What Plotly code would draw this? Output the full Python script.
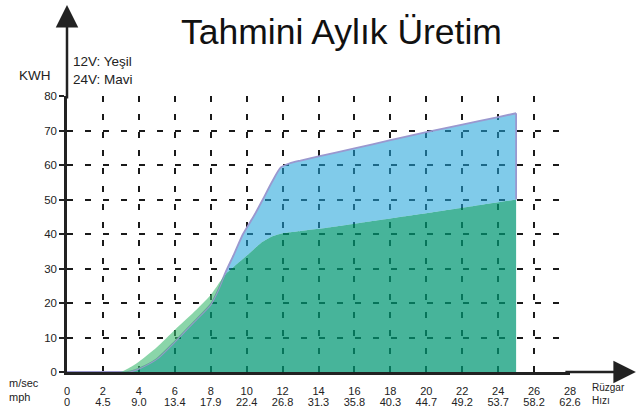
import plotly.graph_objects as go

# Wind speed (m/sec) sample points and estimated monthly production (KWH)
wind_ms = [0, 3.0, 3.4, 4, 5, 6, 7, 8, 8.4, 8.8, 9.3, 9.8, 10.4, 10.9, 11.4, 11.9, 12.4, 13, 14, 16, 18, 20, 22, 24, 25]
kwh_12v = [0, 0, 1.0, 3.0, 7.2, 12.2, 17.0, 22.3, 25.3, 28.2, 30.6, 32.8, 35.6, 37.8, 39.3, 40.1, 40.5, 40.9, 41.5, 43, 44.5, 46, 47.6, 49.2, 50]
kwh_24v = [0, 0, 0, 1.0, 3.8, 8.8, 14.2, 19.6, 23.6, 28.6, 34.2, 40, 45.2, 50, 55, 59.3, 60.5, 61.3, 62.5, 64.8, 67.2, 69.5, 71.7, 73.9, 75]

x_ticks_ms = [0, 2, 4, 6, 8, 10, 12, 14, 16, 18, 20, 22, 24, 26, 28]
x_ticks_mph = ["0", "4.5", "9.0", "13.4", "17.9", "22.4", "26.8", "31.3", "35.8", "40.3", "44.7", "49.2", "53.7", "58.2", "62.6"]
y_ticks = [0, 10, 20, 30, 40, 50, 60, 70, 80]

kwh_min = [min(a, b) for a, b in zip(kwh_12v, kwh_24v)]

TEAL = "rgba(0,151,115,0.72)"
BLUE = "rgba(32,164,218,0.57)"
GREEN = "rgba(60,185,112,0.6)"
PURPLE = "#9a98cf"
GRID = "#1a1a1a"
FONT = "Liberation Sans, Arial, sans-serif"
TXT = "#222"

fig = go.Figure()
sm = 0.6
fig.add_trace(go.Scatter(x=wind_ms, y=kwh_min, mode="lines", line=dict(width=0, shape="spline", smoothing=sm),
                         fill="tozeroy", fillcolor=TEAL, hoverinfo="skip", showlegend=False))
fig.add_trace(go.Scatter(x=wind_ms, y=kwh_24v, mode="lines", line=dict(width=1.8, color=PURPLE, shape="spline", smoothing=sm),
                         fill="tonexty", fillcolor=BLUE, name="24V", showlegend=False))
fig.add_trace(go.Scatter(x=wind_ms, y=kwh_min, mode="lines", line=dict(width=0, shape="spline", smoothing=sm),
                         hoverinfo="skip", showlegend=False))
fig.add_trace(go.Scatter(x=wind_ms, y=kwh_12v, mode="lines", line=dict(width=0, shape="spline", smoothing=sm),
                         fill="tonexty", fillcolor=GREEN, name="12V", showlegend=False))
# right edge of the 24V area
fig.add_trace(go.Scatter(x=[wind_ms[-1], wind_ms[-1]], y=[kwh_12v[-1], kwh_24v[-1]], mode="lines",
                         line=dict(width=1.8, color=PURPLE), hoverinfo="skip", showlegend=False))
# second row of tick labels (mph) on an overlaying axis
fig.add_trace(go.Scatter(x=[x_ticks_ms[0], x_ticks_ms[-1]], y=[None, None], xaxis="x2", mode="lines",
                         hoverinfo="skip", showlegend=False))

fig.update_layout(
    width=640, height=407,
    margin=dict(l=67, r=70, t=96, b=35, autoexpand=False),
    paper_bgcolor="white", plot_bgcolor="white",
    font=dict(family=FONT, color=TXT, size=11),
    xaxis=dict(range=[0, 28], tickmode="array", tickvals=x_ticks_ms, ticktext=[str(v) for v in x_ticks_ms],
               showgrid=True, gridcolor=GRID, gridwidth=2, griddash="6px,12px",
               zeroline=False, showline=True, linecolor=TXT, linewidth=2.5, automargin=False,
               ticks="", ticklabelstandoff=7, tickfont=dict(size=11, family=FONT, color=TXT), fixedrange=True),
    xaxis2=dict(range=[0, 28], overlaying="x", matches="x", side="bottom", anchor="y", tickmode="array",
                tickvals=x_ticks_ms, ticktext=x_ticks_mph, showgrid=False, zeroline=False, showline=False,
                automargin=False, ticks="", ticklabelstandoff=22,
                tickfont=dict(size=11, family=FONT, color=TXT), fixedrange=True),
    yaxis=dict(range=[0, 80], tickmode="array", tickvals=y_ticks,
               showgrid=True, gridcolor=GRID, gridwidth=2, griddash="6px,12px",
               zeroline=False, showline=True, linecolor=TXT, linewidth=2.5, automargin=False,
               ticks="outside", ticklen=5, tickwidth=1.5, tickcolor=TXT,
               tickfont=dict(size=11.5, family=FONT, color=TXT), fixedrange=True),
    showlegend=False,
)

ann = [
    dict(text="Tahmini Aylık Üretim", x=0.545, y=1.232, xref="paper", yref="paper", showarrow=False,
         font=dict(size=35.5, family=FONT, color="#111"), xanchor="center", yanchor="middle"),
    dict(text="KWH", x=-0.028, y=1.076, xref="paper", yref="paper", showarrow=False,
         font=dict(size=13.5, family=FONT, color=TXT), xanchor="right", yanchor="middle"),
    dict(text="12V: Yeşil<br>24V: Mavi", x=0.008, y=1.092, xref="paper", yref="paper", showarrow=False,
         font=dict(size=13.5, family=FONT, color=TXT), xanchor="left", yanchor="middle", align="left"),
    dict(text="m/sec<br>mph", x=-0.12, y=-0.067, xref="paper", yref="paper", showarrow=False,
         font=dict(size=11, family=FONT, color=TXT), xanchor="left", yanchor="middle", align="left"),
    dict(text="Rüzgar<br>Hızı", x=1.04, y=-0.08, xref="paper", yref="paper", showarrow=False,
         font=dict(size=10, family=FONT, color=TXT), xanchor="left", yanchor="middle", align="left"),
    # axis arrows
    dict(text="", x=1.131, y=0, xref="paper", yref="paper", showarrow=True, ax=-72, ay=0,
         arrowhead=2, arrowsize=1.8, arrowwidth=2.5, arrowcolor=TXT),
    dict(text="", x=0, y=1.33, xref="paper", yref="paper", showarrow=True, ax=0, ay=95,
         arrowhead=2, arrowsize=1.8, arrowwidth=2.5, arrowcolor=TXT),
]
fig.update_layout(annotations=ann)

fig.write_html("out.html", config={"displayModeBar": False},
               post_script="document.body.style.margin='0';document.body.style.padding='0';")
